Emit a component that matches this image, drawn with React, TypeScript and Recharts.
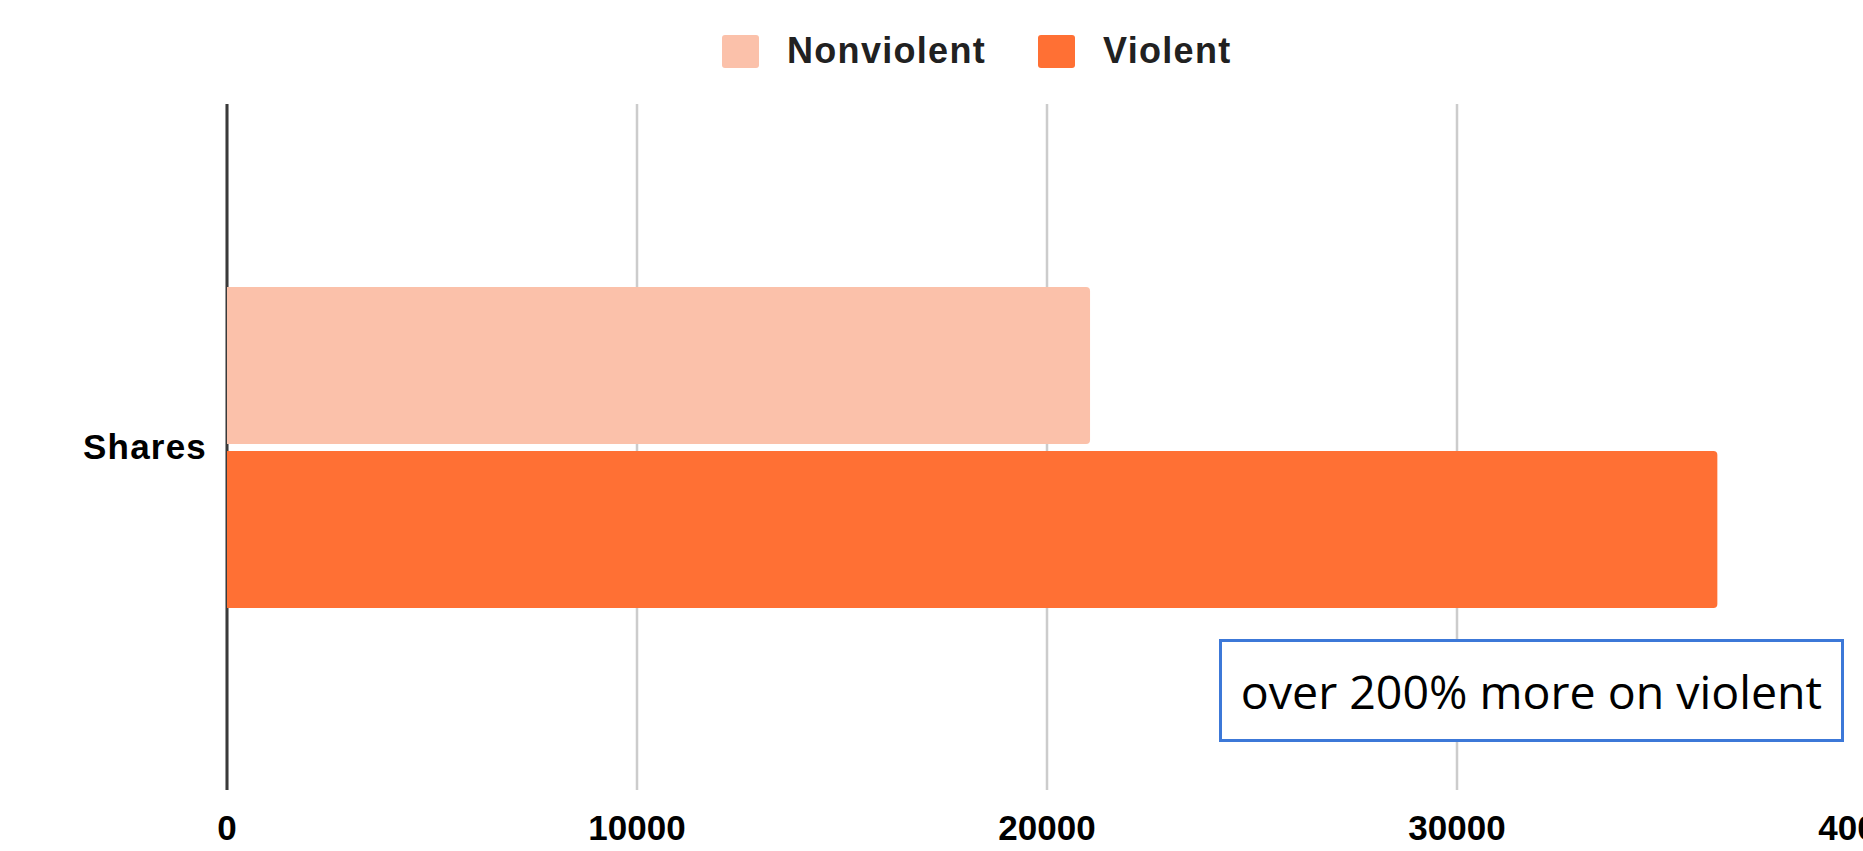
import React from 'react';
import { BarChart, Bar, XAxis, YAxis, CartesianGrid, Legend } from 'recharts';

const categories = ['Shares'];
const nonviolentValues = [21050];
const violentValues = [36350];
const xTicks = [0, 10000, 20000, 30000, 40000];
const zeroTick = [0];
const seriesKeys = ['Nonviolent', 'Violent'];
const seriesColors = ['#fbc1aa', '#ff7034'];
const annotationText = 'over 200% more on violent';

const data = categories.map((c, i) => ({
  metric: c,
  Nonviolent: nonviolentValues[i],
  Violent: violentValues[i],
}));

const FONT = '"Liberation Sans", Arial, sans-serif';

const LegendContent = () => (
  <div style={{ display: 'flex', alignItems: 'center', height: 70, fontFamily: FONT }}>
    {seriesKeys.map((k, i) => (
      <div key={k} style={{ display: 'flex', alignItems: 'center', marginRight: i === 0 ? 52 : 0 }}>
        <div style={{ width: 37, height: 33, borderRadius: 3, background: seriesColors[i], marginRight: 28 }} />
        <span style={{ fontSize: 36, fontWeight: 700, color: '#212121', letterSpacing: 1.3 }}>{k}</span>
      </div>
    ))}
  </div>
);

export default function App() {
  return (
    <div style={{ position: 'fixed', left: 0, top: 0, width: 1863, height: 851, overflow: 'hidden', background: '#fff' }}>
      <BarChart
        width={1900}
        height={851}
        data={data}
        layout="vertical"
        margin={{ top: 34, right: 33, bottom: 0, left: 0 }}
        barSize={157}
        barGap={7}
      >
        <CartesianGrid horizontal={false} stroke="#cccccc" strokeWidth={2.5} />
        <CartesianGrid horizontal={false} xAxisId="zero" stroke="#3a3a3a" strokeWidth={3} />
        <XAxis
          type="number"
          domain={[0, 40000]}
          ticks={xTicks}
          interval={0}
          axisLine={false}
          tickLine={false}
          tickMargin={19}
          height={61}
          tick={{ fontSize: 35, fontWeight: 700, fill: '#000', fontFamily: FONT }}
        />
        <XAxis xAxisId="zero" type="number" domain={[0, 40000]} ticks={zeroTick} hide />
        <YAxis
          type="category"
          dataKey="metric"
          width={227}
          interval={0}
          axisLine={false}
          tickLine={false}
          tickMargin={14}
          tick={{ fontSize: 35, fontWeight: 700, fill: '#000', fontFamily: FONT, letterSpacing: 1.2 }}
        />
        <Legend
          verticalAlign="top"
          content={<LegendContent />}
          wrapperStyle={{ top: 16, left: 722, width: 700, height: 70 }}
        />
        {seriesKeys.map((k, i) => (
          <Bar key={k} dataKey={k} fill={seriesColors[i]} radius={[0, 4, 4, 0]} isAnimationActive={false} />
        ))}
      </BarChart>
      <div
        style={{
          position: 'absolute',
          left: 1219,
          top: 639,
          width: 625,
          height: 103,
          boxSizing: 'border-box',
          border: '3px solid #3c78d8',
          background: '#fff',
          display: 'flex',
          alignItems: 'center',
          justifyContent: 'center',
          fontFamily: '"Open Sans", sans-serif',
          fontSize: 46.5,
          color: '#000',
          whiteSpace: 'nowrap',
        }}
      >
        {annotationText}
      </div>
    </div>
  );
}
